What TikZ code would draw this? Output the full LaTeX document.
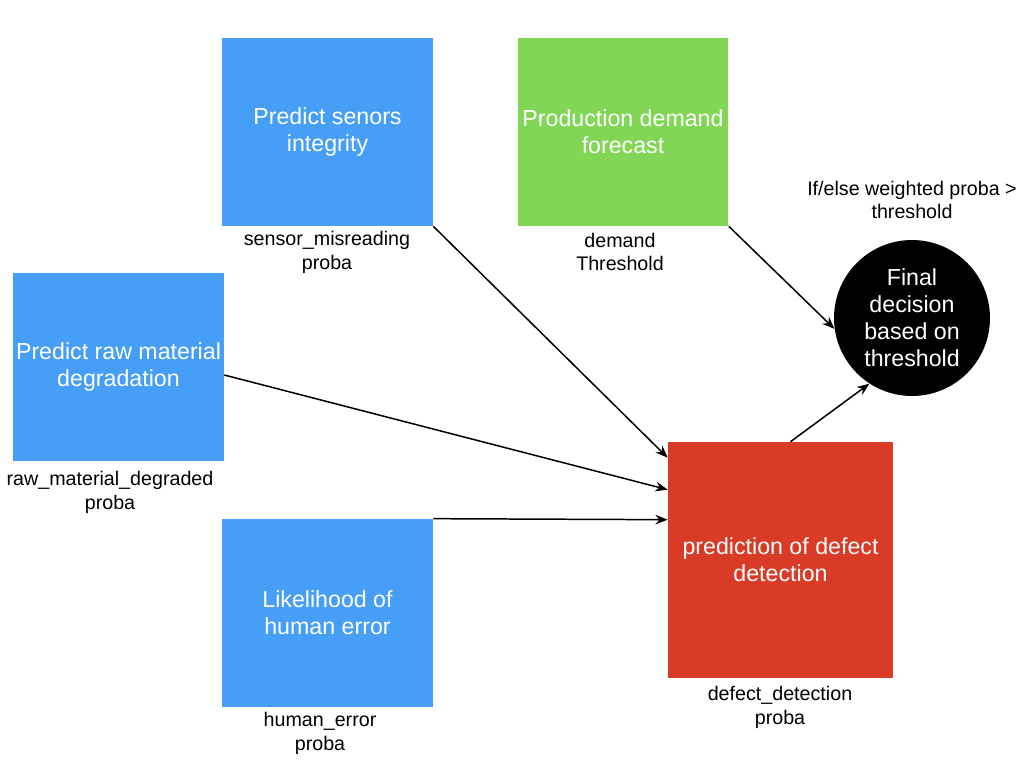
\documentclass[tikz,border=0pt]{standalone}
\usepackage{fontspec}
\setmainfont{Liberation Sans}
\usepackage{tikz}
\usetikzlibrary{calc,arrows.meta}
\definecolor{predblue}{HTML}{479EF7}
\definecolor{demgreen}{HTML}{82D656}
\definecolor{defred}{HTML}{DA3B26}
\def\predbox{\node[fill=predblue,text=white,minimum width=4.22cm,minimum height=3.76cm,align=center,font=\fontsize{13.2}{15.3}\selectfont,execute at begin node={\rule{0pt}{14pt}}]}
\def\lblnode{\node[align=center,font=\fontsize{11.2}{13.6}\selectfont]}
\def\drawflow{\draw[line width=0.85pt,-{Stealth[length=7pt,width=5.5pt]}]}

\begin{document}
\begin{tikzpicture}[x=0.02cm,y=-0.02cm,inner sep=0pt]
\useasboundingbox (0,0) rectangle (1024,768);

% ---------- the four model boxes
\predbox (sensor) at (327.5,132) {Predict senors\\integrity};
\predbox[fill=demgreen] (demand) at (623,132) {Production demand\\forecast};
\predbox (rawmat) at (118.5,367) {Predict raw material\\degradation};
\predbox (human) at (327.5,613) {Likelihood of\\human error};

% outputs under each box
\lblnode (sensor_out) at (327,252) {sensor\_misreading\\proba};
\lblnode (demand_out) at (620,252) {demand\\Threshold};
\lblnode (rawmat_out) at (110,492) {raw\_material\_degraded\\proba};
\lblnode (human_out) at (320,733) {human\_error\\proba};

% ---------- defect detection
\predbox[fill=defred,minimum width=4.5cm,minimum height=4.72cm] (defect) at (780.5,560) {prediction of defect\\detection};
\lblnode (defect_out) at (780,707) {defect\_detection\\proba};

% ---------- final decision
\node[circle,fill=black,text=white,minimum size=3.12cm,align=center,font=\fontsize{13.2}{15.3}\selectfont] (decision) at (912,318) {Final\\decision\\based on\\threshold};
\lblnode (rule) at (912,200) {If/else weighted proba >\\threshold};

% where the arrows hit the red box and the circle
\coordinate (in_sensor) at ($ (defect.north west) + (0,16) $);
\coordinate (in_rawmat) at ($ (defect.north west) + (0,48) $);
\coordinate (in_human) at ($ (defect.north west) + (0,78) $);
\coordinate (rawmat_exit) at ($ (rawmat.east) + (0,8) $);
\coordinate (defect_exit) at ($ (defect.north) + (10,0) $);

\drawflow (sensor.south east) to (in_sensor);
\drawflow (rawmat_exit) to (in_rawmat);
\drawflow (human.north east) to (in_human);
\drawflow (demand.south east) to (decision.188);
\drawflow (defect_exit) to (decision.237);
\end{tikzpicture}
\end{document}
